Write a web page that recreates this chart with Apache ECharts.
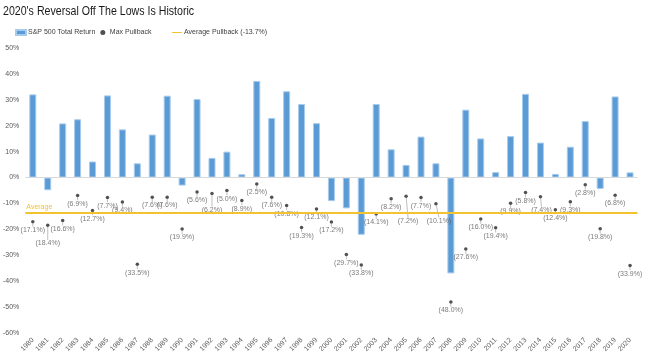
<!DOCTYPE html>
<html>
<head>
<meta charset="utf-8">
<script src="https://cdn.jsdelivr.net/npm/echarts@6/dist/echarts.min.js"></script>
<style>html,body{margin:0;padding:0;background:#fff}#c{width:645px;height:358px}</style>
</head>
<body>
<div id="c"></div>
<script>
const years = ['1980','1981','1982','1983','1984','1985','1986','1987','1988','1989','1990','1991','1992','1993','1994','1995','1996','1997','1998','1999','2000','2001','2002','2003','2004','2005','2006','2007','2008','2009','2010','2011','2012','2013','2014','2015','2016','2017','2018','2019','2020'];
const totalReturn = [32.1,-4.9,20.9,22.5,6.2,31.7,18.6,5.5,16.6,31.6,-3.1,30.3,7.6,10.0,1.3,37.3,23.0,33.3,28.4,21.0,-9.1,-11.9,-22.1,28.4,10.9,4.9,15.8,5.5,-37.0,26.2,15.1,2.1,16.0,32.3,13.5,1.4,11.9,21.8,-4.4,31.3,2.0];
const maxPullback = [-17.1,-18.4,-16.6,-6.9,-12.7,-7.7,-9.4,-33.5,-7.6,-7.6,-19.9,-5.6,-6.2,-5.0,-8.9,-2.5,-7.6,-10.8,-19.3,-12.1,-17.2,-29.7,-33.8,-14.1,-8.2,-7.2,-7.7,-10.1,-48.0,-27.6,-16.0,-19.4,-9.9,-5.8,-7.4,-12.4,-9.3,-2.8,-19.8,-6.8,-33.9];
const averagePullback = -13.7;
const yTicks = {min: -60, max: 50, step: 10};
const titleText = "2020's Reversal Off The Lows Is Historic";
const seriesNames = ['S&P 500 Total Return', 'Max Pullback', 'Average Pullback (-13.7%)'];

// label layout tweaks (leader-line labels)
const labelShift = {'1981': [0, 10], '1992': [0, 8], '2005': [2, 17], '2007': [3, 9], '2014': [1, 5]};

const FONT = "'Liberation Sans',Arial,sans-serif";
const YEL = '#F2C230';
const legendText = {fontFamily: FONT, fontSize: 7, color: '#404040', padding: [0,0,0,-3]};
const chart = echarts.init(document.getElementById('c'), null, {renderer: 'canvas'});
chart.setOption({
  backgroundColor: '#fff',
  animation: false,
  graphic: [{
    type: 'text', left: 3, top: 5, scaleX: 0.816, originX: 0,
    style: {text: titleText, font: '13px ' + FONT, fill: '#1a1a1a'}
  }],
  legend: [
    {
      left: 15, top: 29, padding: 0, itemGap: 5, itemWidth: 10, itemHeight: 5,
      textStyle: legendText,
      data: [{name: seriesNames[0], icon: 'rect'}, {name: seriesNames[1], icon: 'circle'}]
    },
    {
      left: 172, top: 29, padding: 0, itemWidth: 10, itemHeight: 5,
      textStyle: legendText,
      data: [{name: seriesNames[2], icon: 'path://M0,2 L10,2 L10,3 L0,3 Z M0,0 L0.01,0 M0,5 L0.01,5'}]
    }
  ],
  grid: {left: 23.5, right: 7.5, top: 48, bottom: 25, containLabel: false},
  xAxis: {
    type: 'category', data: years,
    axisLine: {show: false, onZero: false},
    axisTick: {show: false},
    axisLabel: {interval: 0, rotate: 45, fontFamily: FONT, fontSize: 7, color: '#595959', margin: 6}
  },
  yAxis: {
    type: 'value', min: yTicks.min, max: yTicks.max, interval: yTicks.step,
    splitLine: {show: false}, axisLine: {show: false}, axisTick: {show: false},
    axisLabel: {formatter: '{value}%', fontFamily: FONT, fontSize: 7, color: '#595959', margin: 6}
  },
  series: [
    {
      name: seriesNames[0], type: 'bar', data: totalReturn, barWidth: 7,
      itemStyle: {color: '#5B9BD5', borderColor: '#A7CBEC', borderWidth: 1},
      markLine: {
        silent: true, symbol: 'none', animation: false,
        lineStyle: {color: '#D9D9D9', width: 1, type: 'solid'},
        label: {show: false},
        data: [{yAxis: 0}]
      },
      z: 2
    },
    {
      name: seriesNames[1], type: 'scatter', data: maxPullback, symbolSize: 3.5,
      itemStyle: {color: '#262626'},
      label: {
        show: true, position: 'bottom', distance: 3,
        fontFamily: FONT, fontSize: 7, color: '#595959',
        formatter: p => '(' + Math.abs(p.value).toFixed(1) + '%)'
      },
      labelLine: {show: true, lineStyle: {color: '#BFBFBF', width: 1}},
      labelLayout: function (p) {
        const s = labelShift[years[p.dataIndex]];
        return s ? {dx: s[0], dy: s[1]} : {};
      },
      z: 4
    },
    {
      name: seriesNames[2], type: 'line', data: [], symbol: 'none',
      lineStyle: {color: YEL, width: 2},
      itemStyle: {color: YEL},
      markLine: {
        silent: true, symbol: 'none', animation: false,
        lineStyle: {color: YEL, width: 2, type: 'solid'},
        label: {show: true, position: 'insideStartTop', formatter: 'Average', distance: [1, 2],
          fontFamily: FONT, fontSize: 7, color: YEL},
        data: [{yAxis: averagePullback}]
      },
      z: 3
    }
  ]
});
</script>
</body>
</html>
